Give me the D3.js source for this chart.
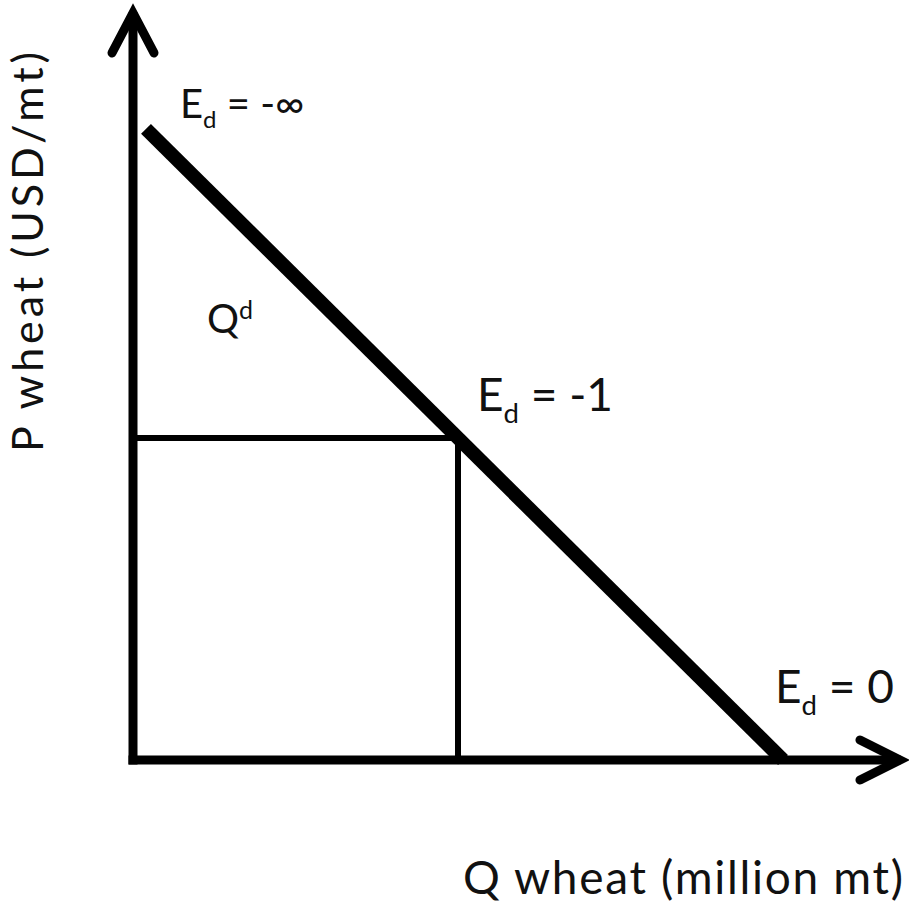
<!DOCTYPE html>
<meta charset="utf-8">
<style>
  body { margin: 0; background: #fff; }
  svg { display: block; }
  text { font-family: Lato, "Open Sans", sans-serif; fill: #111; }
  .axis { stroke: #000; stroke-width: 9; stroke-linecap: square; fill: none; }
  .arrow { stroke: #000; stroke-width: 9; stroke-linecap: round; stroke-linejoin: miter; fill: none; }
  .demand { stroke: #000; stroke-width: 14; stroke-linecap: butt; }
  .guide { stroke: #000; stroke-width: 6; }
</style>
<body>
<div id="chart"></div>
<script src="https://d3js.org/d3.v7.min.js"></script>
<script>

// demand curve end points (quantity, price)
var demandQ = [0.2, 10];
var demandP = [9.8, 0];
// unit elastic point
var midQ = 5, midP = 5;
// axis extents
var axisQ = [0, 11.8];
var axisP = [0, 11.6];
// elasticity labels
var elastText = ["-\u221e", "-1", "0"];
var xTitle = "Q wheat (million mt)";
var yTitle = "P wheat (USD/mt)";

var width = 909, height = 905;

var x = d3.scaleLinear().domain([0, 10]).range([133, 783]);
var y = d3.scaleLinear().domain([0, 10]).range([760, 116]);

var svg = d3.select("#chart").append("svg")
    .attr("width", width)
    .attr("height", height);

// axes
svg.append("line").attr("class", "axis")
    .attr("x1", x(0)).attr("y1", y(axisP[0]))
    .attr("x2", x(0)).attr("y2", y(axisP[1]) + 4);
svg.append("line").attr("class", "axis")
    .attr("x1", x(axisQ[0])).attr("y1", y(0))
    .attr("x2", x(axisQ[1]) - 4).attr("y2", y(0));

// arrow heads
var tipY = [x(0), y(axisP[1])], tipX = [x(axisQ[1]), y(0)];
svg.append("path").attr("class", "arrow")
    .attr("d", d3.line()([[tipY[0] - 21, tipY[1] + 40], tipY, [tipY[0] + 21, tipY[1] + 40]]));
svg.append("path").attr("class", "arrow")
    .attr("d", d3.line()([[tipX[0] - 40, tipX[1] - 20], tipX, [tipX[0] - 40, tipX[1] + 20]]));

// rectangle guides to unit elastic point
svg.append("line").attr("class", "guide")
    .attr("x1", x(0)).attr("y1", y(midP))
    .attr("x2", x(midQ)).attr("y2", y(midP));
svg.append("line").attr("class", "guide")
    .attr("x1", x(midQ)).attr("y1", y(midP))
    .attr("x2", x(midQ)).attr("y2", y(0));

// demand line
svg.append("line").attr("class", "demand")
    .attr("x1", x(demandQ[0])).attr("y1", y(demandP[0]))
    .attr("x2", x(demandQ[1])).attr("y2", y(demandP[1]));

// elasticity labels: anchored to top end, mid point, Q intercept
var anchors = [
  {px: x(demandQ[0]) + 34, py: y(demandP[0]) - 11, size: 40},
  {px: x(midQ) + 19, py: y(midP) - 27, size: 46},
  {px: x(demandQ[1]) - 8, py: y(demandP[1]) - 57, size: 46}
];
anchors.forEach(function(a, i) {
  var t = svg.append("text")
      .attr("x", a.px).attr("y", a.py)
      .style("font-size", a.size + "px");
  t.append("tspan").text("E");
  t.append("tspan").attr("dy", a.size * 0.26).style("font-size", (a.size * 0.6) + "px").text("d");
  t.append("tspan").attr("dy", -a.size * 0.26).text(" = " + elastText[i]);
});

// Q^d label
var qd = svg.append("text")
    .attr("x", 207).attr("y", 333)
    .style("font-size", "40px");
qd.append("tspan").text("Q");
qd.append("tspan").attr("dy", -14).style("font-size", "25px").text("d");

// axis titles
svg.append("text")
    .attr("x", 463).attr("y", 894)
    .attr("textLength", 440)
    .attr("lengthAdjust", "spacing")
    .style("font-size", "46px")
    .text(xTitle);

svg.append("text")
    .attr("transform", "translate(43,452) rotate(-90)")
    .attr("textLength", 400)
    .attr("lengthAdjust", "spacing")
    .style("font-size", "43px")
    .text(yTitle);

</script>
</body>
</html>
